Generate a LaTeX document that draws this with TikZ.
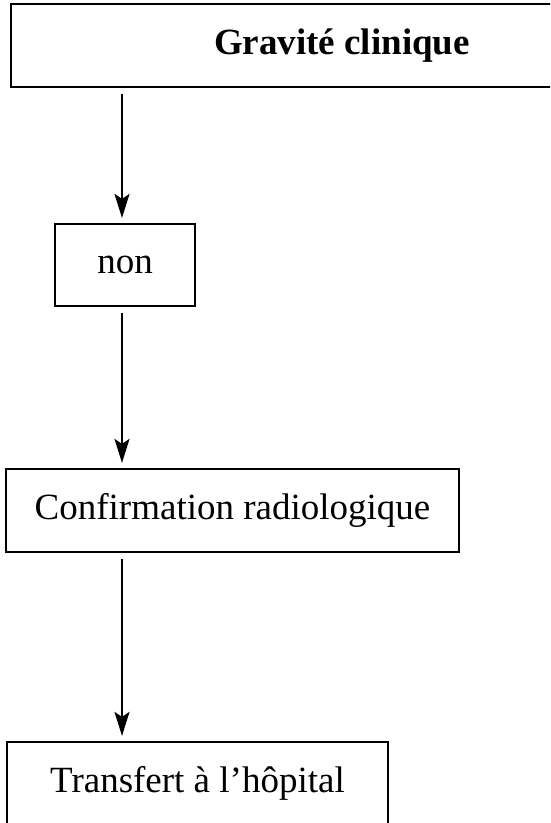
\documentclass[tikz,border=0pt]{standalone}
\usepackage{fontspec}
\setmainfont{Liberation Serif}
\usetikzlibrary{arrows.meta}

\tikzset{
    box/.style={draw, line width=2.2pt, inner sep=0pt, font=\fontsize{37}{40}\selectfont},
    boldbox/.style={box, font=\fontsize{37}{40}\selectfont\bfseries},
    flow/.style={-{Stealth[length=24pt, width=15pt, inset=5pt]}, line width=2.2pt, shorten <=6pt, shorten >=5pt}
}

\begin{document}
\begin{tikzpicture}[x=1pt, y=-1pt]
            \useasboundingbox (0,0) rectangle (550,823);
            \clip (0,0) rectangle (550,823);
            \node[boldbox, minimum width=662pt, minimum height=83pt] (gravite) at (342,45.5) {Gravité clinique};
            \node[box, minimum width=140pt, minimum height=82pt] (non) at (125,265) {non};
            \node[box, minimum width=453pt, minimum height=83pt] (confirm) at (232.5,510.5) {Confirmation radiologique};
            \node[box, minimum width=381pt, minimum height=83pt] (transfert) at (197.5,783.5) {Transfert à l’hôpital};
            \coordinate (axis) at (122,0);
            \draw[flow] (gravite.south -| axis) -- (non.north -| axis);
            \draw[flow] (non.south -| axis) -- (confirm.north -| axis);
            \draw[flow] (confirm.south -| axis) -- (transfert.north -| axis);
        \end{tikzpicture}
\end{document}
